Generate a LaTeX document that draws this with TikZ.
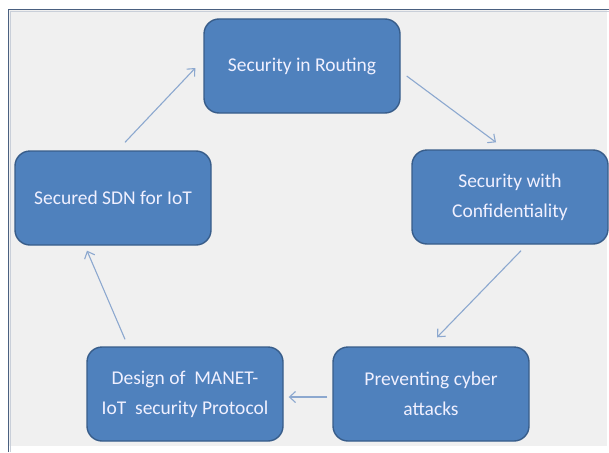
\documentclass[tikz,border=0pt]{standalone}
\usepackage{fontspec}
\setmainfont{Carlito}
\usetikzlibrary{arrows.meta}
\definecolor{boxfill}{HTML}{4F81BD}
\definecolor{boxline}{HTML}{385D8A}
\definecolor{arrowcol}{HTML}{8CA8CF}
\definecolor{panel}{HTML}{F0F0F0}
\definecolor{frameline}{HTML}{4A6080}
\begin{document}
\begin{tikzpicture}[x=1pt,y=-1pt,
  stagebox/.style={draw=boxline, line width=1.4pt, fill=boxfill, rounded corners=15pt,
    minimum width=196pt, minimum height=94pt, align=center, text=white!94!blue,
    font=\fontsize{19.5}{30}\selectfont, inner sep=2pt},
  flow/.style={draw=arrowcol, line width=1.1pt, -{Straight Barb[length=6pt,width=11pt]}}]
  \useasboundingbox (0,0) rectangle (609,452);
  % background panel and its frame
  \fill[white] (0,0) rectangle (609,452);
  \fill[panel] (9,10) rectangle (607,446);
  \draw[frameline, line width=1.4pt] (8.5,452) -- (8.5,9.5) -- (609,9.5);
  \draw[frameline!30, line width=1pt] (10.5,452) -- (10.5,11.5) -- (609,11.5);

  % stages of the cycle
  \node[stagebox] (routing) at (302,66) {Security in Routing};
  \node[stagebox] (confid) at (510,197) {Security with\\Confidentiality};
  \node[stagebox] (attacks) at (431,394) {Preventing cyber\\attacks};
  \node[stagebox] (manet) at (185,394) {Design of\ \ MANET-\\IoT\ \ security Protocol};
  \node[stagebox] (sdn) at (113,198) {Secured SDN for IoT};

  % cycle arrows
  \draw[flow] ([shift={(12,-8)}]sdn.north) -- ([shift={(-8,2)}]routing.west);
  \draw[flow] ([shift={(6,10)}]routing.east) -- ([shift={(-14,-7)}]confid.north);
  \draw[flow] ([shift={(11,6)}]confid.south) -- ([shift={(6,-9)}]attacks.north);
  \draw[flow] ([shift={(-5,3)}]attacks.west) -- ([shift={(5,3)}]manet.east);
  \draw[flow] ([shift={(-60,-7)}]manet.north) -- ([shift={(-26,5)}]sdn.south);
\end{tikzpicture}
\end{document}
